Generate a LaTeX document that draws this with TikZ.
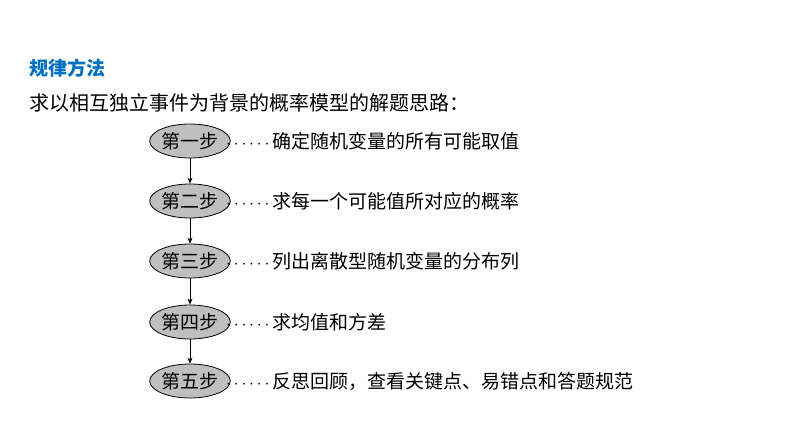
\documentclass[tikz,border=0pt]{standalone}
\usepackage{fontspec}
\newfontfamily\cjk{Noto Sans CJK SC}
\usetikzlibrary{shapes.geometric,arrows.meta}
\definecolor{tblue}{RGB}{0,112,192}
\tikzset{stepbox/.style={ellipse,draw=black,line width=0.8pt,fill=black!25,minimum width=72pt,minimum height=34pt,inner sep=0pt,font=\cjk\fontsize{19}{19}\selectfont},
desc/.style={anchor=west,inner sep=0pt,font=\cjk\fontsize{19}{19}\selectfont},
arr/.style={-{Stealth[length=6pt,width=5pt]},line width=0.8pt}}
\begin{document}
\begin{tikzpicture}[x=1pt,y=-1pt]
\useasboundingbox (0,0) rectangle (794,447);
\node[anchor=west,inner sep=0pt,text=tblue,font=\cjk\bfseries\fontsize{19}{19}\selectfont] (t) at (29,68) {规律方法};
\node[anchor=west,inner sep=0pt,font=\cjk\fontsize{20}{20}\selectfont] (s) at (29,103) {求以相互独立事件为背景的概率模型的解题思路：};
\foreach \i/\y/\a/\b in {1/141/第一步/确定随机变量的所有可能取值,2/201/第二步/求每一个可能值所对应的概率,3/261/第三步/列出离散型随机变量的分布列,4/322/第四步/求均值和方差,5/381/第五步/反思回顾，查看关键点、易错点和答题规范}{
\node[stepbox] (e\i) at (190,\y) {\a};
\node[desc] (d\i) at (226,\y) {$\cdots\cdots$\,\b};
}
\foreach \i/\j in {1/2,2/3,3/4,4/5} \draw[arr] (e\i) -- (e\j);
\end{tikzpicture}
\end{document}
